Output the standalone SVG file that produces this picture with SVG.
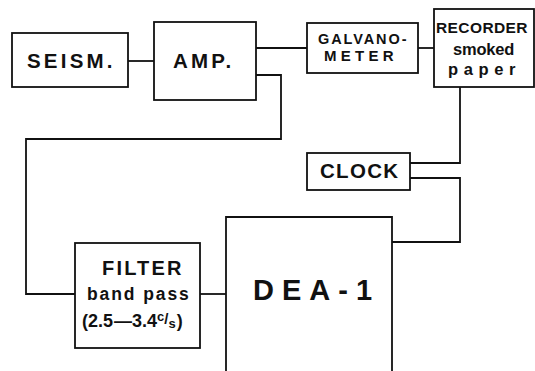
<svg xmlns="http://www.w3.org/2000/svg" width="535" height="371" viewBox="0 0 535 371">
<style>
.box{fill:none;stroke:#111;stroke-width:1.8}
.ln{fill:none;stroke:#111;stroke-width:1.8}
text{font-family:"Liberation Sans",Arial,sans-serif;font-weight:bold;fill:#111}
</style>
<rect width="535" height="371" fill="#fff"/>
<g id="connectors">
<path class="ln" d="M128,61 H154"/>
<path class="ln" d="M256,48 H307"/>
<path class="ln" d="M418,48 H434"/>
<path class="ln" d="M256,75 H281 V139 H26 V294 H75"/>
<path class="ln" d="M460,87 V163 H410"/>
<path class="ln" d="M410,178 H460 V242 H392"/>
<path class="ln" d="M200,294 H226"/>
</g>
<g id="seism">
<rect class="box" x="12" y="33" width="116" height="54"/>
<text x="27" y="68" font-size="20.5" letter-spacing="3.2">SEISM.</text>
</g>
<g id="amp">
<rect class="box" x="154" y="22" width="102" height="78"/>
<text x="173" y="68" font-size="20.5" letter-spacing="3.2">AMP.</text>
</g>
<g id="galvanometer">
<rect class="box" x="307" y="23" width="111" height="50"/>
<text x="318" y="43.5" font-size="14.5" letter-spacing="1.9">GALVANO-</text>
<text x="324" y="61" font-size="15" letter-spacing="4.3">METER</text>
</g>
<g id="recorder">
<rect class="box" x="434" y="9" width="100" height="78"/>
<text x="436" y="33" font-size="15.5" letter-spacing="0.4">RECORDER</text>
<text x="453" y="55" font-size="16.5" letter-spacing="-0.2">smoked</text>
<text x="448" y="75" font-size="16.5" letter-spacing="5.6">paper</text>
</g>
<g id="clock">
<rect class="box" x="307" y="153" width="103" height="37"/>
<text x="320" y="178" font-size="20.5" letter-spacing="1.3">CLOCK</text>
</g>
<g id="filter">
<rect class="box" x="75" y="243" width="125" height="105"/>
<text x="102" y="275" font-size="20" letter-spacing="2.2">FILTER</text>
<text x="87" y="300" font-size="17.5" letter-spacing="1.9">band pass</text>
<text x="82" y="327" font-size="18">(2.5<tspan dx="1">—</tspan>3.4<tspan font-size="13" dy="-6">c</tspan><tspan font-size="15" dy="3">/</tspan><tspan font-size="13" dy="4">s</tspan><tspan dy="-1" dx="1">)</tspan></text>
</g>
<g id="dea1">
<path class="box" d="M226,373 V217 H392 V373"/>
<text x="253" y="300" font-size="29" letter-spacing="8">DEA-1</text>
</g>
</svg>
